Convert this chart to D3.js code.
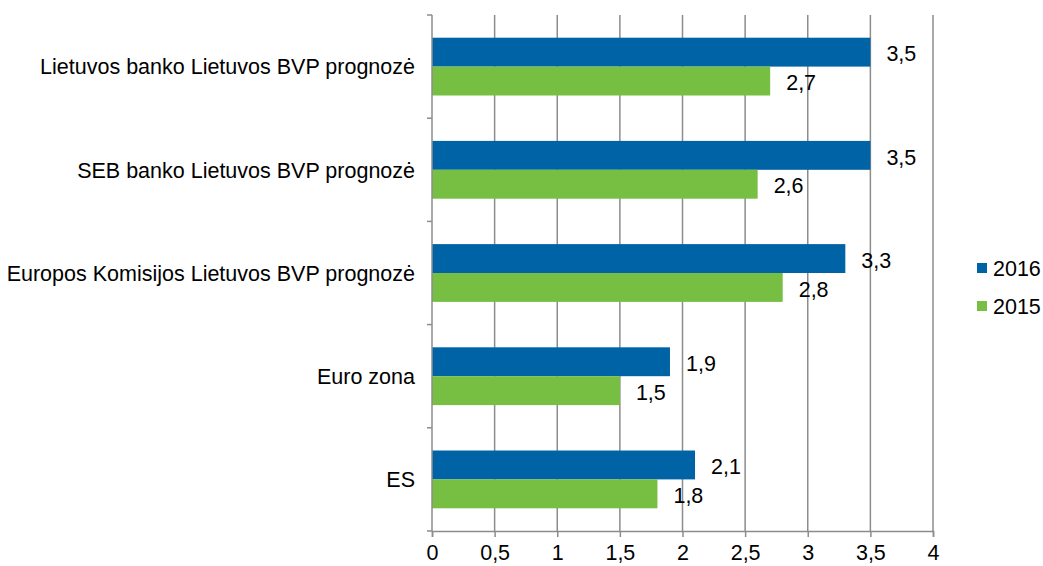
<!DOCTYPE html>
<html><head><meta charset="utf-8">
<script src="https://cdn.jsdelivr.net/npm/d3@7"></script>
<style>body{margin:0;background:#fff}svg{display:block}text{font-family:"Liberation Sans",Arial,sans-serif;fill:#000}</style>
</head><body><svg id="c" width="1043" height="566"></svg>
<script>
const categories = ["Lietuvos banko Lietuvos BVP prognozė","SEB banko Lietuvos BVP prognozė","Europos Komisijos Lietuvos BVP prognozė","Euro zona","ES"];
const values2016 = [3.5,3.5,3.3,1.9,2.1];
const values2015 = [2.7,2.6,2.8,1.5,1.8];
const seriesNames = ["2016","2015"];
const xTicks = [0,0.5,1,1.5,2,2.5,3,3.5,4];
const xTickLabels = ["0","0,5","1","1,5","2","2,5","3","3,5","4"];
const colors = ["#0063A5","#77BF43"];

const FS = 21.5;
const svg = d3.select("#c");
const pLeft=432, pRight=933, pTop=15, pBottom=531;
const x = d3.scaleLinear().domain([0,4]).range([pLeft,pRight]);
const y = d3.scaleBand().domain(categories).range([pTop,pBottom]).paddingInner(0.44).paddingOuter(0.22);
const sub = d3.scaleBand().domain(seriesNames).range([0,y.bandwidth()]);

// gridlines
svg.append("g").selectAll("line").data(xTicks.slice(1)).join("line")
  .attr("x1",d=>x(d)).attr("x2",d=>x(d)).attr("y1",pTop).attr("y2",pBottom)
  .attr("stroke","#8c8c8c").attr("stroke-width",1.5);

// bars
const data = seriesNames.map((s,i)=>({s, vals: i===0?values2016:values2015, c: colors[i]}));
data.forEach(ser=>{
  svg.append("g").selectAll("rect").data(categories).join("rect")
    .attr("x",x(0)).attr("y",(d)=>y(d)+sub(ser.s))
    .attr("width",(d,i)=>x(ser.vals[i])-x(0)).attr("height",sub.bandwidth())
    .attr("fill",ser.c);
  svg.append("g").selectAll("text").data(categories).join("text")
    .attr("x",(d,i)=>x(ser.vals[i])+16).attr("y",d=>y(d)+sub(ser.s)+sub.bandwidth()/2+1.5)
    .attr("dy","0.36em").attr("font-size",FS)
    .text((d,i)=>String(ser.vals[i]).replace(".",","));
});

// left axis
const yb = d3.scaleLinear().domain([0,5]).range([pTop,pBottom]);
svg.append("line").attr("x1",pLeft).attr("x2",pLeft).attr("y1",pTop).attr("y2",pBottom).attr("stroke","#8c8c8c").attr("stroke-width",1.5);
svg.append("g").selectAll("line").data(d3.range(6)).join("line")
  .attr("x1",pLeft-5).attr("x2",pLeft).attr("y1",d=>yb(d)).attr("y2",d=>yb(d)).attr("stroke","#8c8c8c").attr("stroke-width",1.5);
svg.append("g").selectAll("text").data(categories).join("text")
  .attr("x",415).attr("y",d=>y(d)+y.bandwidth()/2).attr("dy","0.36em")
  .attr("text-anchor","end").attr("font-size",FS).text(d=>d);

// bottom axis
const xAxis = d3.axisBottom(x).tickValues(xTicks).tickFormat((d,i)=>xTickLabels[i]).tickSize(6).tickPadding(8);
const gx = svg.append("g").attr("transform",`translate(0,${pBottom})`).call(xAxis);
gx.select(".domain").attr("stroke","#8c8c8c").attr("stroke-width",1.5);
gx.selectAll(".tick line").attr("stroke","#8c8c8c").attr("stroke-width",1.5);
gx.selectAll(".tick text").attr("font-size",FS).attr("font-family","Liberation Sans, Arial, sans-serif").attr("fill","#000");

// legend
const lg = svg.append("g");
seriesNames.forEach((s,i)=>{
  const ly = 268 + i*38;
  lg.append("rect").attr("x",977).attr("y",ly-5).attr("width",10).attr("height",10).attr("fill",colors[i]);
  lg.append("text").attr("x",993).attr("y",ly).attr("dy","0.36em").attr("font-size",FS).text(s);
});
</script></body></html>
